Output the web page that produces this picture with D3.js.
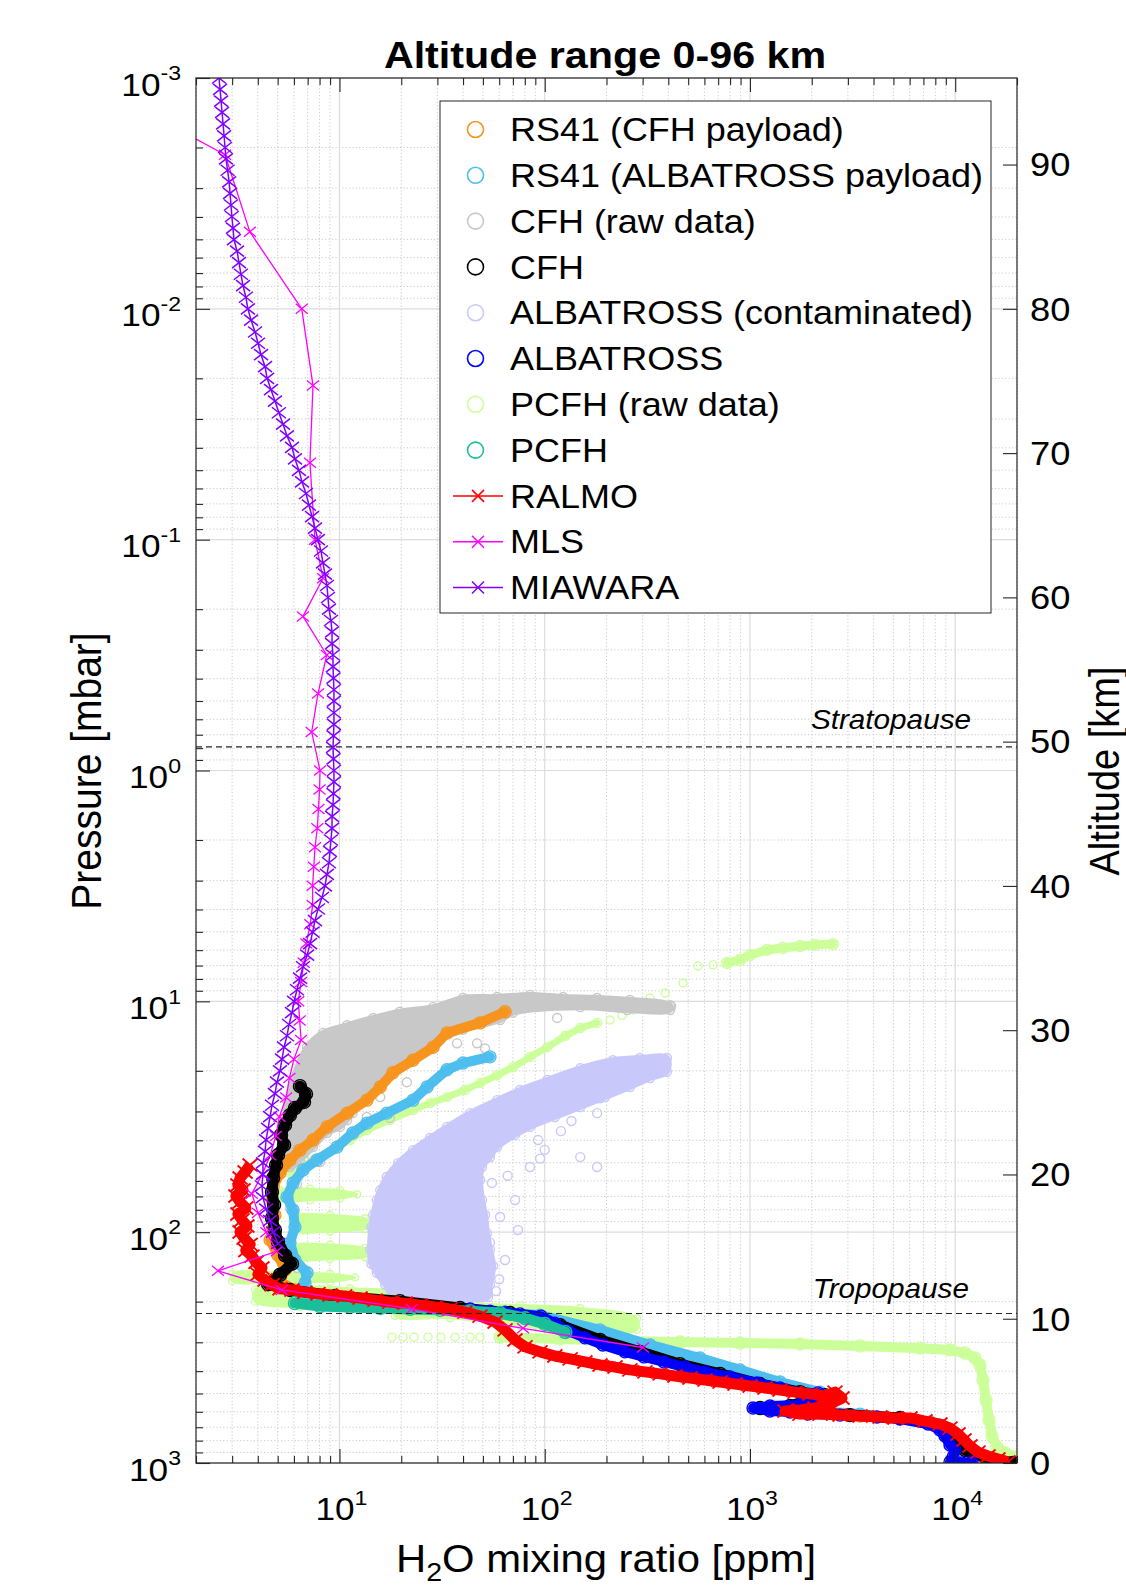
<!DOCTYPE html>
<html>
<head>
<meta charset="utf-8">
<script src="https://cdn.jsdelivr.net/npm/d3@7"></script>
<style>
  body { margin: 0; background: #fff; }
  text { font-family: "Liberation Sans", Arial, Helvetica, sans-serif; fill: #000; }
</style>
</head>
<body>
<svg id="chart"></svg>
<script>
// ---------- data: points are [H2O mixing ratio (ppm), pressure (hPa)] ----------

const seriesNames = ["RS41 (CFH payload)", "RS41 (ALBATROSS payload)", "CFH (raw data)", "CFH",
  "ALBATROSS (contaminated)", "ALBATROSS", "PCFH (raw data)", "PCFH", "RALMO", "MLS", "MIAWARA"];

const xTickExp = [1, 2, 3, 4];
const yTickExp = [-3, -2, -1, 0, 1, 2, 3];
const altTicks = [0, 10, 20, 30, 40, 50, 60, 70, 80, 90];

const tropopauseP = 225;
const stratopauseP = 0.79;

// MIAWARA retrieval levels and values
const miawaraP = [0.001, 0.00112, 0.00126, 0.00141, 0.00158, 0.00178, 0.002, 0.00224, 0.00251, 0.00282,
  0.00316, 0.00355, 0.00398, 0.00447, 0.00501, 0.00562, 0.00631, 0.00708, 0.00794, 0.00891,
  0.01, 0.0112, 0.0126, 0.0141, 0.0158, 0.0178, 0.02, 0.0224, 0.0251, 0.0282,
  0.0316, 0.0355, 0.0398, 0.0447, 0.0501, 0.0562, 0.0631, 0.0708, 0.0794, 0.0891,
  0.1, 0.112, 0.126, 0.141, 0.158, 0.178, 0.2, 0.224, 0.251, 0.282,
  0.316, 0.355, 0.398, 0.447, 0.501, 0.562, 0.631, 0.708, 0.794, 0.891,
  1, 1.12, 1.26, 1.41, 1.58, 1.78, 2, 2.24, 2.51, 2.82,
  3.16, 3.55, 3.98, 4.47, 5.01, 5.62, 6.31, 7.08, 7.94, 8.91,
  10, 11.2, 12.6, 14.1, 15.8, 17.8, 20, 22.4, 25.1, 28.2,
  31.6, 35.5, 39.8, 44.7, 50.1, 56.2, 63.1, 70.8, 79.4, 89.1,
  100, 112];
const miawaraX = [2.59, 2.62, 2.65, 2.68, 2.71, 2.74, 2.77, 2.80, 2.85, 2.90,
  2.93, 2.96, 2.99, 3.03, 3.06, 3.17, 3.24, 3.31, 3.39, 3.50,
  3.58, 3.71, 3.88, 4.01, 4.15, 4.34, 4.44, 4.64, 4.85, 5.07,
  5.31, 5.55, 5.87, 6.07, 6.35, 6.57, 6.87, 7.10, 7.35, 7.60,
  7.86, 8.13, 8.31, 8.50, 8.69, 8.79, 8.89, 9.09, 9.20, 9.20,
  9.30, 9.30, 9.35, 9.40, 9.40, 9.40, 9.40, 9.35, 9.30, 9.35,
  9.40, 9.40, 9.35, 9.30, 9.20, 9.20, 9.09, 8.99, 8.89, 8.69,
  8.50, 8.22, 7.86, 7.60, 7.40, 7.19, 6.96, 6.64, 6.42, 6.21,
  6.01, 5.87, 5.68, 5.55, 5.37, 5.25, 5.13, 4.96, 4.85, 4.69,
  4.59, 4.49, 4.39, 4.34, 4.24, 4.24, 4.19, 4.24, 4.39, 4.59,
  4.75, 5.02];

const mls = [[0.56, 0.001], [2.77, 0.00215], [3.66, 0.00464], [6.55, 0.01], [7.43, 0.0215], [7.18, 0.0464],
  [7.6, 0.1], [8.32, 0.147], [6.64, 0.215], [8.67, 0.316], [7.86, 0.464], [7.32, 0.681], [8.04, 1],
  [8.0, 1.21], [7.9, 1.47], [7.8, 1.78], [7.6, 2.15], [7.5, 2.61], [7.4, 3.16], [7.4, 3.83], [7.2, 4.64],
  [6.9, 5.62], [6.7, 6.81], [6.5, 8.25], [6.3, 10], [6.4, 12.1], [6.5, 14.7], [6.0, 17.8], [5.7, 21.5],
  [5.5, 26.1], [5.1, 31.6], [4.9, 38.3], [4.6, 46.4], [4.2, 56.2], [3.74, 68.1], [4.01, 82.5], [4.4, 100],
  [4.95, 121], [2.56, 147], [5.23, 178], [22.5, 215], [78.4, 261], [301, 316]];

const ralmo = [[3.67, 51.2], [3.47, 54.9], [3.28, 58.3], [3.20, 62.5], [3.39, 65.7], [3.13, 69.7], [3.28, 74.0],
  [3.50, 78.6], [3.20, 83.4], [3.35, 88.6], [3.54, 94.1], [3.28, 99.9], [3.43, 106], [3.67, 113], [3.50, 120],
  [3.75, 127], [3.92, 135], [4.19, 143], [4.01, 152], [4.34, 161], [4.69, 169], [5.13, 176], [5.87, 178],
  [6.79, 182], [7.86, 185], [8.99, 187], [10.6, 189], [12.6, 193], [14.9, 197], [17.6, 201], [20.9, 203],
  [24.7, 207], [29.2, 211], [34.6, 215], [40.9, 222], [48.4, 231], [57.3, 245], [64.1, 265], [71.7, 293],
  [80.2, 314], [94.9, 330], [112, 344], [133, 354], [157, 365], [186, 376], [220, 384], [260, 395], [308, 403],
  [365, 411], [431, 420], [510, 428], [604, 437], [715, 446], [846, 455], [1001, 464], [1184, 473], [1401, 483],
  [1657, 493], [1961, 502], [2320, 512], [2596, 493], [2809, 523], [2454, 555], [2074, 578], [1753, 589],
  [1481, 595], [1753, 614], [2194, 614], [2746, 620], [3438, 626], [4302, 632], [5088, 638], [6020, 638],
  [7124, 658], [8430, 678], [9431, 706], [10320, 749], [11040, 795], [11800, 844], [12910, 897], [14450, 933],
  [16160, 961], [18080, 990]];

const albatross = [[43.3, 215], [54.1, 220], [64.1, 222], [75.8, 226], [95.9, 231], [112, 248], [130, 268],
  [157, 287], [192, 308], [246, 330], [305, 347], [381, 365], [483, 384], [604, 403], [799, 424], [1082, 450],
  [1401, 473], [1773, 497], [2145, 497], [2454, 518], [1753, 561], [1252, 566], [1035, 578], [1252, 595],
  [1567, 601], [1918, 614], [2746, 620], [4158, 632], [5383, 645], [7370, 678], [8430, 719], [8918, 764],
  [9431, 836], [9979, 878], [9756, 942], [9431, 990], [10790, 1000], [12070, 990]];

const cfh = [[6.42, 23.3], [6.87, 25.2], [6.72, 27.3], [6.07, 29.0], [5.74, 31.1], [5.43, 34.3], [5.19, 37.9],
  [5.37, 41.9], [5.02, 46.3], [4.91, 51.2], [4.75, 58.3], [4.69, 67.0], [4.80, 76.2], [4.69, 86.8], [4.85, 97.9],
  [5.02, 110], [5.43, 126], [5.87, 137], [5.13, 153], [4.49, 168], [5.74, 178], [9.51, 189], [19.7, 199],
  [38.7, 213], [67.8, 224], [119, 253], [186, 293], [291, 330], [456, 373], [715, 411], [1119, 455], [1754, 493],
  [2320, 508], [1567, 566], [1119, 578], [1754, 601], [3072, 620], [5383, 638], [8430, 691], [9979, 795],
  [11160, 878], [13970, 942], [19120, 1000]];

const rs41Cfh = [[64.1, 11.1], [48.4, 12.4], [33.4, 13.7], [28.6, 15.8], [22.8, 18.0], [18.2, 20.4], [15.8, 23.5],
  [13.6, 26.8], [10.9, 30.5], [8.69, 35.0], [7.43, 39.9], [6.42, 44.1], [5.74, 48.7], [5.13, 55.4], [4.75, 63.7],
  [4.69, 72.6], [4.85, 84.3], [4.69, 97.9], [4.59, 108], [5.02, 126], [5.43, 146], [5.13, 164], [6.07, 178],
  [10.06, 191], [19.7, 201], [43.3, 217], [94.9, 240], [186, 285], [326, 330], [571, 376], [1119, 437],
  [1961, 493], [2746, 523], [1753, 589], [3438, 626], [7538, 665], [9979, 795], [12480, 924], [17480, 1000]];

const rs41Alb = [[54.1, 17.4], [40.0, 18.5], [33.4, 19.8], [26.7, 23.5], [22.8, 26.8], [17.0, 30.5], [13.6, 33.7],
  [11.6, 37.2], [9.73, 42.8], [7.77, 48.7], [6.64, 53.8], [5.94, 61.2], [5.55, 70.4], [5.94, 80.2], [6.07, 95.0],
  [5.74, 111], [6.07, 132], [6.95, 150], [6.79, 166], [6.42, 183], [8.99, 197], [19.7, 207], [43.3, 217],
  [94.9, 229], [186, 265], [326, 308], [571, 351], [894, 395], [1401, 446], [2194, 493], [1753, 589], [3438, 614],
  [5383, 638], [7538, 665], [8918, 757], [10550, 878], [14780, 970], [18500, 1000]];

const pcfh = [[6.07, 203], [8.04, 209], [11.25, 211], [15.8, 213], [22.1, 215], [30.9, 217], [43.3, 220],
  [60.6, 224], [80.2, 236], [100.3, 250], [126, 271]];

// CFH raw data: outline of the dense cloud, plus loose points
const cfhRawCloud = [[5.55, 26.8], [6.95, 15.8], [8.31, 13.7], [10.9, 12.7], [14.6, 11.8], [19.7, 11.1], [28.6, 10.6],
  [40.0, 9.67], [58.6, 9.58], [84.8, 9.38], [123, 9.58], [180, 9.67], [260, 9.87], [408, 10.4], [408, 10.9],
  [252, 10.9], [149, 10.6], [70.1, 11.2], [60.6, 12.05], [40.0, 13.3], [30.9, 14.7], [22.8, 17.4], [18.2, 19.8],
  [15.8, 23.5], [13.6, 26.0], [11.6, 30.5], [10.06, 35.0], [8.69, 37.2], [7.43, 42.8], [6.42, 48.7], [5.74, 52.2],
  [5.43, 32.7]];
const cfhRawDots = [[21.3, 22.4], [17.6, 32.0], [22.1, 15.8], [28.6, 15.2], [37.4, 15.2], [46.8, 15.2], [51.2, 16.0],
  [115, 11.8], [326, 10.6], [413, 10.5], [15.8, 26.0], [13.6, 31.7], [10.9, 32.7], [9.73, 30.5], [6.79, 49.2],
  [8.04, 49.7], [6.21, 61.9], [5.74, 78.6], [6.21, 143]];

// ALBATROSS contaminated: outline of the dense cloud, plus loose points
const albContamCloud = [[394, 17.6], [291, 17.6], [215, 18.0], [149, 19.5], [103, 21.9], [75.8, 24.2], [58.6, 26.8],
  [43.3, 30.5], [33.4, 35.0], [27.6, 39.1], [22.8, 44.1], [19.3, 50.2], [17.0, 57.7], [15.8, 65.7], [15.2, 72.6],
  [14.6, 84.3], [14.3, 95.0], [14.1, 119], [14.3, 137], [15.2, 150], [16.7, 169], [18.6, 191], [30.9, 193],
  [52.9, 191], [54.1, 169], [56.0, 140], [54.1, 119], [52.3, 101], [51.2, 84.3], [49.5, 72.6], [48.4, 59.4],
  [49.5, 52.2], [54.1, 47.3], [58.6, 42.8], [71.7, 37.9], [84.8, 35.0], [112, 31.7], [149, 28.7], [197, 26.0],
  [260, 23.5], [326, 21.5], [394, 20.2]];
const albContamDots = [[180, 30.5], [180, 52.2], [149, 47.3], [92.8, 39.9], [84.8, 52.2], [74.1, 97.9], [60.6, 86.0],
  [54.1, 111], [55.3, 61.2], [71.7, 72.6], [64.1, 132], [186, 26.3], [120, 36.5], [135, 33.0], [100, 44.0],
  [66.0, 57.0], [60.0, 160], [58.0, 180], [95.0, 48.0]];

// PCFH raw data
const pcfhRawTrail = [[5.74, 55.4], [6.42, 52.2], [7.43, 48.7], [9.30, 44.1], [11.25, 39.9], [13.6, 36.1], [17.6, 32.7],
  [22.8, 29.6], [27.6, 27.6], [33.4, 26.0], [40.9, 24.2], [48.4, 22.6], [58.6, 20.9], [70.1, 19.3], [84.8, 17.4],
  [103, 15.8], [126, 14.1], [149, 13.05], [180, 12.4]];
const pcfhRawTop = [[773, 6.82], [894, 6.62], [1001, 6.30], [1211, 5.99], [1449, 5.87], [1754, 5.76], [2074, 5.70],
  [2538, 5.65]];
const pcfhRawDots = [[208, 12.05], [238, 11.5], [269, 10.9], [326, 9.67], [386, 9.20], [472, 8.33], [558, 7.03],
  [661, 6.95], [18.0, 285], [20.4, 285], [23.1, 285], [27.0, 285], [31.2, 285], [36.6, 285], [43.3, 285], [48.4, 285]];
const pcfhRawLow = [[60.6, 285], [119, 290], [233, 296], [456, 299], [894, 302], [1754, 305], [3438, 311],
  [6738, 318], [9431, 324], [11160, 334], [12480, 351], [13210, 376], [13660, 437], [14130, 533], [14610, 651],
  [15110, 764], [15980, 853], [17480, 905], [20000, 942], [23660, 980]];
const pcfhRawShelves = [
  [[5.13, 65.8], [7.19, 64.8], [10.06, 65.8], [12.2, 68.5], [10.06, 71.5], [7.19, 72.8], [5.13, 72.3]],
  [[5.94, 85.5], [8.99, 84.2], [13.3, 87.0], [15.4, 92.0], [13.3, 97.0], [8.99, 99.5], [5.94, 98.5]],
  [[5.94, 115], [8.99, 113], [13.3, 117], [14.9, 122], [13.3, 128.5], [8.99, 131], [5.94, 130]],
  [[3.0, 151], [5.13, 149.5], [8.99, 151.5], [11.9, 157], [8.99, 164], [5.13, 165], [3.0, 163]],
  [[3.88, 177], [6.42, 171], [11.25, 175], [18.6, 184], [18.6, 205], [6.42, 211], [3.88, 200]],
  [[18.6, 207], [34.6, 203], [75.8, 207], [149, 213], [282, 236], [282, 265], [149, 276], [75.8, 255], [34.6, 236], [18.6, 231]]
];

// ---------- layout ----------
const W = 1126, H = 1586;
const L = 196, R = 1017, T = 78, B = 1463;
const SX = 1.1; // text in the picture is a little wide

const colors = {
  rs41Cfh: "#f7941d", rs41Alb: "#4dbeee", cfhRaw: "#c8c8c8", cfh: "#000000", albContam: "#c8c8fa",
  alb: "#0000ff", pcfhRaw: "#ccff99", pcfh: "#1abf99", ralmo: "#ff0000", mls: "#ff00ff", miawara: "#8000ff"
};
const legendColors = [colors.rs41Cfh, colors.rs41Alb, colors.cfhRaw, colors.cfh, colors.albContam, colors.alb,
  colors.pcfhRaw, colors.pcfh, colors.ralmo, colors.mls, colors.miawara];

const svg = d3.select("#chart").attr("width", W).attr("height", H);

const x = d3.scaleLog().domain([2, 2e4]).range([L, R]);
const y = d3.scaleLog().domain([1e-3, 1e3]).range([T, B]);
const alt = d3.scaleLinear().domain([0, 96]).range([B, T]);

const isDecade = v => Math.abs(Math.log10(v) - Math.round(Math.log10(v))) < 1e-9;
const xMinor = x.ticks().filter(v => !isDecade(v));
const yMinor = y.ticks().filter(v => !isDecade(v));
const xMajor = xTickExp.map(e => Math.pow(10, e));
const yMajor = yTickExp.map(e => Math.pow(10, e));

svg.append("defs").append("clipPath").attr("id", "clip")
  .append("rect").attr("x", L).attr("y", T).attr("width", R - L).attr("height", B - T);

// grid
const grid = svg.append("g");
grid.selectAll(".xm").data(xMinor).join("line")
  .attr("x1", d => x(d)).attr("x2", d => x(d)).attr("y1", T).attr("y2", B)
  .attr("stroke", "#c4c4c4").attr("stroke-width", 0.9).attr("stroke-dasharray", "1.2,2.2");
grid.selectAll(".ym").data(yMinor).join("line")
  .attr("y1", d => y(d)).attr("y2", d => y(d)).attr("x1", L).attr("x2", R)
  .attr("stroke", "#c4c4c4").attr("stroke-width", 0.9).attr("stroke-dasharray", "1.2,2.2");
grid.selectAll(".xM").data(xMajor).join("line")
  .attr("x1", d => x(d)).attr("x2", d => x(d)).attr("y1", T).attr("y2", B)
  .attr("stroke", "#dcdcdc").attr("stroke-width", 1.2);
grid.selectAll(".yM").data(yMajor).join("line")
  .attr("y1", d => y(d)).attr("y2", d => y(d)).attr("x1", L).attr("x2", R)
  .attr("stroke", "#dcdcdc").attr("stroke-width", 1.2);

// ---------- data layers ----------
const plot = svg.append("g").attr("clip-path", "url(#clip)");
const line = d3.line().x(d => x(d[0])).y(d => y(d[1]));
const closed = d3.line().x(d => x(d[0])).y(d => y(d[1])).curve(d3.curveCatmullRomClosed);
const xMark = (sx, sy) => `M${-sx},${-sy}L${sx},${sy}M${-sx},${sy}L${sx},${-sy}`;

function rings(pts, color, r) {
  plot.append("g").selectAll("circle").data(pts).join("circle")
    .attr("cx", d => x(d[0])).attr("cy", d => y(d[1])).attr("r", r)
    .attr("fill", "none").attr("stroke", color).attr("stroke-width", 1.4);
}
function cloud(poly, color, sw, r) {
  plot.append("path").datum(poly).attr("d", closed)
    .attr("fill", color).attr("stroke", color).attr("stroke-width", sw).attr("stroke-linejoin", "round");
  rings(poly, color, r);
}
function band(pts, color, w) {
  plot.append("path").datum(pts).attr("d", line).attr("fill", "none").attr("stroke", color)
    .attr("stroke-width", w).attr("stroke-linejoin", "round").attr("stroke-linecap", "round");
  rings(pts, color, w / 2 + 1);
}
function crosses(pts, color, lw, sx, sy, mw) {
  plot.append("path").datum(pts).attr("d", line).attr("fill", "none").attr("stroke", color)
    .attr("stroke-width", lw).attr("stroke-linejoin", "round");
  plot.append("g").selectAll("path").data(pts).join("path")
    .attr("transform", d => `translate(${x(d[0])},${y(d[1])})`)
    .attr("d", xMark(sx, sy)).attr("fill", "none").attr("stroke", color).attr("stroke-width", mw);
}

pcfhRawShelves.forEach(s => cloud(s, colors.pcfhRaw, 2, 3.5));
band(pcfhRawLow, colors.pcfhRaw, 10);
band(pcfhRawTrail, colors.pcfhRaw, 7);
band(pcfhRawTop, colors.pcfhRaw, 9);
rings(pcfhRawDots, colors.pcfhRaw, 4);

cloud(albContamCloud, colors.albContam, 6, 4.5);
rings(albContamDots, colors.albContam, 4.5);

cloud(cfhRawCloud, colors.cfhRaw, 6, 4.5);
rings(cfhRawDots, colors.cfhRaw, 4.5);

band(rs41Cfh, colors.rs41Cfh, 10);
band(rs41Alb, colors.rs41Alb, 10);
band(cfh, colors.cfh, 11);
band(albatross, colors.alb, 10);
band(pcfh, colors.pcfh, 11);
crosses(ralmo, colors.ralmo, 11, 7.5, 6.5, 1.9);
crosses(mls, colors.mls, 1.3, 6, 5, 1.3);
crosses(d3.zip(miawaraX, miawaraP), colors.miawara, 1.5, 7, 5.5, 1.5);

// tropopause / stratopause
[tropopauseP, stratopauseP].forEach(p => {
  svg.append("line").attr("x1", L).attr("x2", R).attr("y1", y(p)).attr("y2", y(p))
    .attr("stroke", "#262626").attr("stroke-width", 1.1).attr("stroke-dasharray", "6,4");
});

function label(sel, px, py, extra) {
  return sel.append("text").attr("transform", `translate(${px},${py}) scale(${SX},1)` + (extra || ""));
}
label(svg, 971, y(stratopauseP) - 18).attr("text-anchor", "end").attr("font-size", 27)
  .attr("font-style", "italic").text("Stratopause");
label(svg, 969, y(tropopauseP) - 15).attr("text-anchor", "end").attr("font-size", 27)
  .attr("font-style", "italic").text("Tropopause");

// ---------- axes ----------
const ink = "#262626";
function clean(g) {
  g.select(".domain").remove();
  g.selectAll("text").remove();
  g.selectAll("line").attr("stroke", ink).attr("stroke-width", 1.1);
}
svg.append("g").attr("transform", `translate(0,${B})`).call(d3.axisBottom(x).tickValues(xMajor).tickSize(-14)).call(clean);
svg.append("g").attr("transform", `translate(0,${B})`).call(d3.axisBottom(x).tickValues(xMinor).tickSize(-7)).call(clean);
svg.append("g").attr("transform", `translate(0,${T})`).call(d3.axisTop(x).tickValues(xMajor).tickSize(-14)).call(clean);
svg.append("g").attr("transform", `translate(0,${T})`).call(d3.axisTop(x).tickValues(xMinor).tickSize(-7)).call(clean);
svg.append("g").attr("transform", `translate(${L},0)`).call(d3.axisLeft(y).tickValues(yMajor).tickSize(-14)).call(clean);
svg.append("g").attr("transform", `translate(${L},0)`).call(d3.axisLeft(y).tickValues(yMinor).tickSize(-7)).call(clean);
svg.append("g").attr("transform", `translate(${R},0)`).call(d3.axisRight(alt).tickValues(altTicks).tickSize(-14)).call(clean);

svg.append("rect").attr("x", L).attr("y", T).attr("width", R - L).attr("height", B - T)
  .attr("fill", "none").attr("stroke", ink).attr("stroke-width", 1.2);

// tick labels
yTickExp.forEach(e => {
  const t = label(svg, 181, y(Math.pow(10, e)) + 17.6).attr("text-anchor", "end").attr("font-size", 32);
  t.append("tspan").text("10");
  t.append("tspan").attr("dy", -15.3).attr("font-size", 21).text(e);
});
xTickExp.forEach(e => {
  const t = label(svg, x(Math.pow(10, e)) + 2, 1520).attr("text-anchor", "middle").attr("font-size", 32);
  t.append("tspan").text("10");
  t.append("tspan").attr("dy", -15.3).attr("font-size", 21).text(e);
});
altTicks.forEach(a => {
  label(svg, 1030, alt(a) + 11.8).attr("font-size", 33).text(a);
});

// titles
label(svg, 605, 68).attr("text-anchor", "middle").attr("font-size", 37.5).attr("font-weight", "bold")
  .text("Altitude range 0-96 km");
label(svg, 101, 771, " rotate(-90)").attr("text-anchor", "middle").attr("font-size", 39).text("Pressure [mbar]");
label(svg, 1119, 771, " rotate(-90)").attr("text-anchor", "middle").attr("font-size", 38).text("Altitude [km]");
const xl = label(svg, 606, 1572).attr("text-anchor", "middle").attr("font-size", 38);
xl.append("tspan").text("H");
xl.append("tspan").attr("font-size", 26).attr("dy", 9).text("2");
xl.append("tspan").attr("dy", -9).text("O mixing ratio [ppm]");

// ---------- legend ----------
const lg = svg.append("g");
lg.append("rect").attr("x", 440).attr("y", 101).attr("width", 551).attr("height", 512)
  .attr("fill", "#fff").attr("stroke", ink).attr("stroke-width", 1);
seriesNames.forEach((name, i) => {
  const cy = 129.5 + i * 45.8;
  if (i < 8) {
    lg.append("circle").attr("cx", 475.5).attr("cy", cy).attr("r", 8)
      .attr("fill", "none").attr("stroke", legendColors[i]).attr("stroke-width", 1.6);
  } else {
    lg.append("line").attr("x1", 453).attr("x2", 503).attr("y1", cy).attr("y2", cy)
      .attr("stroke", legendColors[i]).attr("stroke-width", 1.5);
    lg.append("path").attr("transform", `translate(478,${cy})`).attr("d", xMark(6, 6))
      .attr("stroke", legendColors[i]).attr("stroke-width", 1.5).attr("fill", "none");
  }
  label(lg, 510, cy + 11.7).attr("font-size", 32.7).text(name);
});
</script>
</body>
</html>
